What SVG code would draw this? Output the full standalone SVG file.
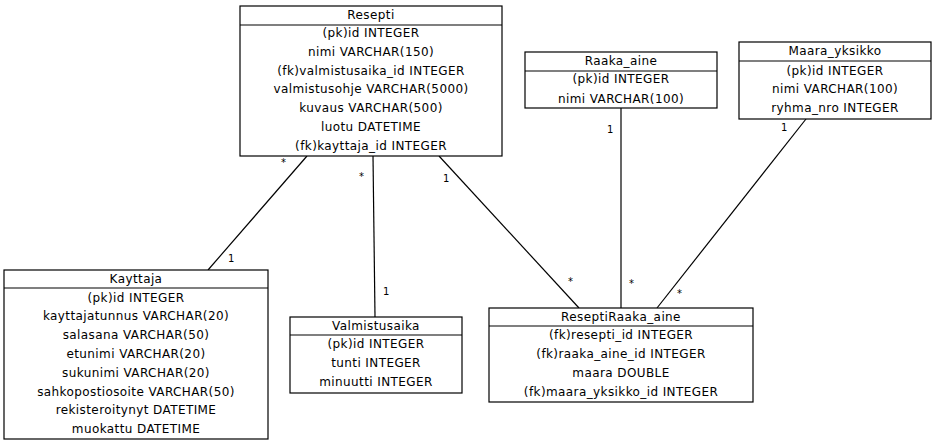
<svg xmlns="http://www.w3.org/2000/svg" width="935" height="445" viewBox="0 0 935 445">
<style>
.box{fill:#fff;stroke:#000;stroke-width:1.2}
.sep{stroke:#000;stroke-width:1.2}
text{font-family:"DejaVu Sans",Verdana,sans-serif;font-size:12px;fill:#000;letter-spacing:0.4px}
.t{text-anchor:middle}
.m{font-size:10px;letter-spacing:0}
.c{stroke:#000;stroke-width:1.2;fill:none}
</style>
<rect width="935" height="445" fill="#fff"/>
<g id="connectors">
<line class="c" x1="307" y1="156" x2="208" y2="270"/>
<line class="c" x1="373" y1="156" x2="375" y2="317"/>
<line class="c" x1="439" y1="156" x2="579" y2="308"/>
<line class="c" x1="621" y1="108" x2="621" y2="308"/>
<line class="c" x1="806" y1="119" x2="657" y2="308"/>
<text class="m" x="281" y="166">*</text>
<text class="m" x="228" y="262">1</text>
<text class="m" x="359" y="180">*</text>
<text class="m" x="383" y="295">1</text>
<text class="m" x="443" y="182">1</text>
<text class="m" x="568" y="285">*</text>
<text class="m" x="607" y="133">1</text>
<text class="m" x="629" y="287">*</text>
<text class="m" x="781" y="131">1</text>
<text class="m" x="677" y="297">*</text>
</g>
<g id="Resepti">
<rect class="box" x="240" y="6" width="262" height="150"/>
<line class="sep" x1="240" y1="25" x2="502" y2="25"/>
<text class="t" x="371" y="19">Resepti</text>
<text class="t" x="371" y="37">(pk)id INTEGER</text>
<text class="t" x="371" y="55.5">nimi VARCHAR(150)</text>
<text class="t" x="371" y="74.5">(fk)valmistusaika_id INTEGER</text>
<text class="t" x="371" y="93">valmistusohje VARCHAR(5000)</text>
<text class="t" x="371" y="112">kuvaus VARCHAR(500)</text>
<text class="t" x="371" y="131">luotu DATETIME</text>
<text class="t" x="371" y="149.5">(fk)kayttaja_id INTEGER</text>
</g>
<g id="Kayttaja">
<rect class="box" x="4" y="270" width="264" height="169"/>
<line class="sep" x1="4" y1="288" x2="268" y2="288"/>
<text class="t" x="136" y="283">Kayttaja</text>
<text class="t" x="136" y="301.5">(pk)id INTEGER</text>
<text class="t" x="136" y="320">kayttajatunnus VARCHAR(20)</text>
<text class="t" x="136" y="339">salasana VARCHAR(50)</text>
<text class="t" x="136" y="357.5">etunimi VARCHAR(20)</text>
<text class="t" x="136" y="376.5">sukunimi VARCHAR(20)</text>
<text class="t" x="136" y="395.5">sahkopostiosoite VARCHAR(50)</text>
<text class="t" x="136" y="414">rekisteroitynyt DATETIME</text>
<text class="t" x="136" y="433">muokattu DATETIME</text>
</g>
<g id="Valmistusaika">
<rect class="box" x="290" y="317" width="172" height="76"/>
<line class="sep" x1="290" y1="335" x2="462" y2="335"/>
<text class="t" x="376" y="330">Valmistusaika</text>
<text class="t" x="376" y="348">(pk)id INTEGER</text>
<text class="t" x="376" y="367">tunti INTEGER</text>
<text class="t" x="376" y="386">minuutti INTEGER</text>
</g>
<g id="ReseptiRaaka_aine">
<rect class="box" x="489" y="308" width="264" height="94"/>
<line class="sep" x1="489" y1="326" x2="753" y2="326"/>
<text class="t" x="621" y="321">ReseptiRaaka_aine</text>
<text class="t" x="621" y="339">(fk)resepti_id INTEGER</text>
<text class="t" x="621" y="358">(fk)raaka_aine_id INTEGER</text>
<text class="t" x="621" y="376.5">maara DOUBLE</text>
<text class="t" x="621" y="395.5">(fk)maara_yksikko_id INTEGER</text>
</g>
<g id="Raaka_aine">
<rect class="box" x="525" y="52" width="192" height="56"/>
<line class="sep" x1="525" y1="71" x2="717" y2="71"/>
<text class="t" x="621" y="65">Raaka_aine</text>
<text class="t" x="621" y="83">(pk)id INTEGER</text>
<text class="t" x="621" y="103">nimi VARCHAR(100)</text>
</g>
<g id="Maara_yksikko">
<rect class="box" x="739" y="42" width="192" height="77"/>
<line class="sep" x1="739" y1="61" x2="931" y2="61"/>
<text class="t" x="835" y="55">Maara_yksikko</text>
<text class="t" x="835" y="75">(pk)id INTEGER</text>
<text class="t" x="835" y="93">nimi VARCHAR(100)</text>
<text class="t" x="835" y="112">ryhma_nro INTEGER</text>
</g>
</svg>
